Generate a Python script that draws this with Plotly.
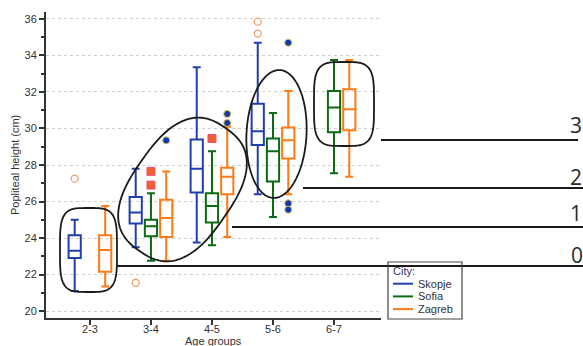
import numpy as np
import plotly.graph_objects as go

# ---------------- data ----------------
age_groups = ["2-3", "3-4", "4-5", "5-6", "6-7"]
cities = ["Skopje", "Sofia", "Zagreb"]

skopje_groups = ["2-3", "3-4", "4-5", "5-6"]
skopje_low = [21.1, 23.5, 23.75, 26.4]
skopje_q1 = [22.9, 24.8, 26.5, 29.1]
skopje_med = [23.3, 25.4, 27.8, 29.85]
skopje_q3 = [24.15, 26.25, 29.4, 31.35]
skopje_high = [25.0, 27.8, 33.35, 34.7]

sofia_groups = ["3-4", "4-5", "5-6", "6-7"]
sofia_low = [22.75, 23.6, 25.15, 27.55]
sofia_q1 = [24.1, 24.85, 27.1, 29.8]
sofia_med = [24.65, 25.75, 28.75, 31.15]
sofia_q3 = [25.0, 26.45, 29.45, 32.05]
sofia_high = [26.45, 28.75, 30.85, 33.75]

zagreb_groups = ["2-3", "3-4", "4-5", "5-6", "6-7"]
zagreb_low = [21.35, 22.75, 24.05, 26.4, 27.35]
zagreb_q1 = [22.15, 24.05, 26.4, 28.35, 29.9]
zagreb_med = [23.35, 25.1, 27.35, 29.35, 31.05]
zagreb_q3 = [24.15, 26.1, 27.85, 30.05, 32.15]
zagreb_high = [25.75, 27.65, 30.1, 32.05, 33.75]

# outliers, drawn in each series' slot
skopje_out_groups = ["2-3", "3-4", "5-6", "5-6"]
skopje_out = [27.25, 21.55, 35.85, 35.2]
sofia_out_groups = ["3-4", "3-4", "4-5"]
sofia_out = [27.65, 26.9, 29.45]
zagreb_out_groups = ["3-4", "4-5", "4-5", "5-6", "5-6", "5-6"]
zagreb_out = [29.35, 30.8, 30.3, 34.7, 25.9, 25.55]

level_labels = ["0", "1", "2", "3"]
x_title = "Age groups"
y_title = "Popliteal height (cm)"
legend_title = "City:"

# ---------------- styling ----------------
colors = {"Skopje": "#1f3fb0", "Sofia": "#0b6b12", "Zagreb": "#ff7a14"}
slot = {"Skopje": -0.25, "Sofia": 0.0, "Zagreb": 0.25}
FONT = "Liberation Sans, Arial, sans-serif"
TXT = "#333333"

series = {
    "Skopje": (skopje_groups, skopje_low, skopje_q1, skopje_med, skopje_q3, skopje_high),
    "Sofia": (sofia_groups, sofia_low, sofia_q1, sofia_med, sofia_q3, sofia_high),
    "Zagreb": (zagreb_groups, zagreb_low, zagreb_q1, zagreb_med, zagreb_q3, zagreb_high),
}
outliers = {
    "Skopje": (skopje_out_groups, skopje_out,
               dict(symbol="circle-open", size=7, color="#f4a070", line=dict(width=1.3, color="#f4a070"))),
    "Sofia": (sofia_out_groups, sofia_out,
              dict(symbol="square", size=8, color="#f2602a", line=dict(width=1, color="#e8508a"))),
    "Zagreb": (zagreb_out_groups, zagreb_out,
               dict(symbol="circle", size=7, color="#1038b0", line=dict(width=1, color="#d8c050"))),
}

def pos(groups, city):
    return [age_groups.index(g) + slot[city] for g in groups]

fig = go.Figure()
for city in cities:
    g, lo, q1, med, q3, hi = series[city]
    fig.add_trace(go.Box(
        x=pos(g, city), q1=q1, median=med, q3=q3, lowerfence=lo, upperfence=hi,
        width=0.2, whiskerwidth=0.65, boxpoints=False,
        line=dict(color=colors[city], width=2), fillcolor="rgba(255,255,255,0)",
        name=city, showlegend=False, hoverinfo="skip"))
for city in cities:
    g, vals, mk = outliers[city]
    fig.add_trace(go.Scatter(x=pos(g, city), y=vals, mode="markers", marker=mk,
                             showlegend=False, hoverinfo="skip"))

# ---------------- decorations (pixel -> paper) ----------------
L, R, T, B = 46, 381, 12, 318
def pp(px, py):
    return (px - L) / (R - L), (B - py) / (B - T)

def blob(cx, cy, a, b, n, ang, npts=160):
    t = np.linspace(0, 2 * np.pi, npts)
    x = a * np.sign(np.cos(t)) * np.abs(np.cos(t)) ** (2 / n)
    y = b * np.sign(np.sin(t)) * np.abs(np.sin(t)) ** (2 / n)
    th = np.deg2rad(ang)
    X = cx + x * np.cos(th) + y * np.sin(th)
    Y = cy - x * np.sin(th) + y * np.cos(th)
    pts = [pp(u, v) for u, v in zip(X, Y)]
    return "M " + " L ".join(f"{u:.5f},{v:.5f}" for u, v in pts) + " Z"

shapes = []
for (cx, cy, a, b, n, ang) in [(88.5, 250, 28.5, 42, 4.0, 0),
                               (182.5, 189.5, 75, 50, 2.6, 55),
                               (276.5, 134, 64, 30, 2.0, 87),
                               (344, 104, 30, 42, 4.0, 0)]:
    shapes.append(dict(type="path", xref="paper", yref="paper", path=blob(cx, cy, a, b, n, ang),
                       line=dict(color="#1a1a1a", width=1.8)))
level_lines = [(117, 583, 266), (232, 583, 227), (303, 583, 188), (381, 578, 140)]
for x0, x1, yy in level_lines:
    a0, b0 = pp(x0, yy)
    a1, _ = pp(x1, yy)
    shapes.append(dict(type="line", xref="paper", yref="paper", x0=a0, x1=a1, y0=b0, y1=b0,
                       line=dict(color="#1a1a1a", width=2)))

annotations = []
label_pos = [(569, 255), (568, 213), (568, 177), (568, 125)]
for lab, (lx, ly) in zip(level_labels, label_pos):
    ax, ay = pp(lx, ly)
    annotations.append(dict(text=lab, x=ax, y=ay, xref="paper", yref="paper", xanchor="left",
                            yanchor="middle", showarrow=False,
                            font=dict(family="Open Sans, sans-serif", size=21, color="#2a2a2a")))

# axis titles
ax, ay = pp(213.5, 340.5)
annotations.append(dict(text=x_title, x=ax, y=ay, xref="paper", yref="paper", xanchor="center",
                        yanchor="middle", showarrow=False, font=dict(family=FONT, size=11, color=TXT)))
ax, ay = pp(15, 165)
annotations.append(dict(text=y_title, x=ax, y=ay, xref="paper", yref="paper", xanchor="center",
                        yanchor="middle", textangle=-90, showarrow=False,
                        font=dict(family=FONT, size=11, color=TXT)))

# manual legend
lx0, ly0 = pp(388, 262)
lx1, ly1 = pp(462, 319)
shapes.append(dict(type="rect", xref="paper", yref="paper", x0=lx0, x1=lx1, y0=ly0, y1=ly1,
                   line=dict(color="#444444", width=1.2), fillcolor="rgba(255,255,255,0)"))
tx, ty = pp(391, 271)
annotations.append(dict(text=legend_title, x=tx, y=ty, xref="paper", yref="paper", xanchor="left",
                        yanchor="middle", showarrow=False,
                        font=dict(family=FONT, size=11, color="#303070")))
for i, city in enumerate(cities):
    yy = 283.7 + i * 12.7
    a0, b0 = pp(393, yy)
    a1, _ = pp(413, yy)
    shapes.append(dict(type="line", xref="paper", yref="paper", x0=a0, x1=a1, y0=b0, y1=b0,
                       line=dict(color=colors[city], width=2)))
    ax, ay = pp(416, yy)
    annotations.append(dict(text=city, x=ax, y=ay, xref="paper", yref="paper", xanchor="left",
                            yanchor="middle", showarrow=False,
                            font=dict(family=FONT, size=11, color=TXT)))

fig.update_layout(
    width=583, height=346,
    margin=dict(l=L, r=583 - R, t=T, b=346 - B, autoexpand=False),
    paper_bgcolor="white", plot_bgcolor="white",
    boxmode="overlay", showlegend=False,
    font=dict(family=FONT, size=11, color=TXT),
    shapes=shapes, annotations=annotations,
    xaxis=dict(range=[-0.72, 4.77], tickmode="array", tickvals=list(range(len(age_groups))),
               ticktext=age_groups, ticks="outside", ticklen=5, tickwidth=1.5, tickcolor="#333",
               ticklabelstandoff=-5,
               showline=True, linecolor="#333", linewidth=2, showgrid=False, zeroline=False,
               automargin=False, tickfont=dict(size=11, color=TXT)),
    yaxis=dict(range=[19.62, 36.38], dtick=2, tick0=20, ticks="outside", ticklen=5, tickwidth=1.5,
               tickcolor="#333", showline=True, linecolor="#333", linewidth=2,
               showgrid=True, gridcolor="#cfcfcf", griddash="dot", gridwidth=1, zeroline=False,
               automargin=False,
               minor=dict(ticks="outside", ticklen=3, dtick=1, tickcolor="#333", showgrid=False),
               tickfont=dict(size=11, color=TXT)),
)

fig.write_html("out.html")
